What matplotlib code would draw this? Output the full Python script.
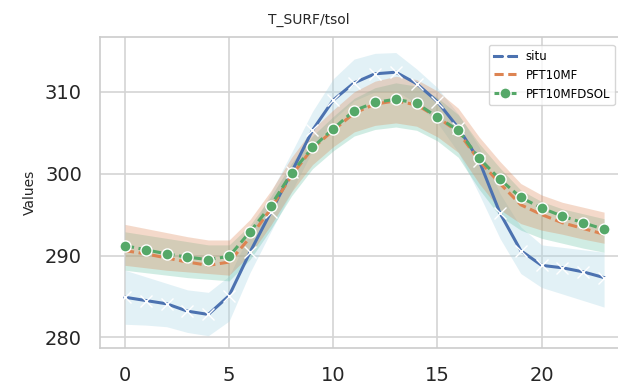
import numpy as np
import matplotlib
matplotlib.use('Agg')
import matplotlib.pyplot as plt

# heures de la journée
hours = list(range(24))

# situ (observations) : moyenne + bornes de la bande
situ = [284.9, 284.5, 284.1, 283.2, 282.8, 285.1, 290.4, 295.3, 300.2, 305.3, 309.0, 311.1,
        312.2, 312.4, 311.0, 308.8, 305.6, 301.6, 295.2, 290.6, 288.8, 288.5, 288.0, 287.3]
situ_hi = [288.2, 287.4, 286.6, 285.8, 285.5, 287.5, 292.8, 297.7, 302.6, 307.6, 311.6, 314.0,
           314.7, 314.8, 312.8, 310.5, 307.3, 303.3, 297.6, 293.5, 291.3, 291.0, 290.7, 290.4]
situ_lo = [281.6, 281.5, 281.3, 280.6, 280.2, 282.0, 287.9, 292.9, 297.8, 302.8, 306.6, 308.9,
           310.0, 310.1, 308.6, 306.2, 302.6, 297.5, 292.1, 287.8, 286.1, 285.3, 284.5, 283.7]

# PFT10MF
mf = [290.6, 290.2, 289.7, 289.2, 288.8, 289.2, 292.2, 295.7, 299.8, 303.1, 305.3, 307.4,
      308.5, 308.9, 308.4, 306.9, 305.1, 301.6, 298.8, 296.2, 295.0, 294.0, 293.3, 292.6]
mf_hi = [293.8, 293.3, 292.8, 292.3, 291.9, 291.9, 294.4, 297.9, 302.0, 305.4, 307.8, 310.0,
         311.3, 311.9, 311.5, 310.1, 308.0, 304.5, 301.5, 298.8, 297.4, 296.5, 295.9, 295.3]
mf_lo = [288.8, 288.5, 288.2, 288.0, 287.8, 287.6, 290.1, 293.7, 297.8, 301.1, 303.3, 305.1,
         305.9, 306.2, 305.8, 304.5, 302.6, 298.8, 295.6, 293.9, 293.1, 292.6, 292.0, 291.5]

# PFT10MFDSOL
dsol = [291.2, 290.7, 290.2, 289.8, 289.5, 289.9, 292.9, 296.1, 300.1, 303.2, 305.5, 307.7,
        308.7, 309.1, 308.6, 306.9, 305.3, 301.9, 299.3, 297.1, 295.8, 294.8, 294.0, 293.2]
dsol_hi = [292.9, 292.5, 292.1, 291.7, 291.3, 291.3, 293.7, 297.2, 301.3, 304.6, 307.0, 309.2,
           310.5, 311.1, 310.7, 309.3, 307.2, 303.7, 300.7, 298.0, 296.6, 295.7, 295.1, 294.5]
dsol_lo = [288.2, 287.9, 287.6, 287.3, 287.1, 286.9, 289.5, 293.2, 297.3, 300.6, 302.8, 304.6,
           305.4, 305.7, 305.3, 304.0, 302.0, 298.1, 294.8, 293.1, 292.1, 291.5, 290.9, 290.4]

x = np.array(hours)

fig = plt.figure(figsize=(6.18, 3.89), dpi=100)
ax = fig.add_axes([100 / 618, 41 / 389, 527 / 618, 311 / 389])

# bandes
ax.fill_between(x, situ_lo, situ_hi, color='#add8e6', alpha=0.35, lw=0)
ax.fill_between(x, dsol_lo, dsol_hi, color='#66c2a5', alpha=0.3, lw=0)
ax.fill_between(x, mf_lo, mf_hi, color='#dd8452', alpha=0.3, lw=0)

# courbes
ax.plot(x, situ, color='#4c72b0', lw=2.2, marker='x', ms=8, mec='white', mew=1.0,
        label='situ')
ax.plot(x, mf, color='#dd8452', lw=2.2, dashes=(3, 1.5), label='PFT10MF')
ax.plot(x, dsol, color='#55a868', lw=2.2, dashes=(3, 1.5), marker='o', ms=8,
        mec='white', mew=1.0, label='PFT10MFDSOL')

ax.set_xlim(-1.2, 24.1)
ax.set_ylim(278.7, 316.7)
ax.set_xticks([0, 5, 10, 15, 20])
ax.set_yticks([280, 290, 300, 310])

ax.grid(True, color='#d4d4d4', lw=1.2)
ax.set_axisbelow(True)
for s in ax.spines.values():
    s.set_color('#cccccc')
    s.set_linewidth(1.2)
ax.tick_params(length=0, labelsize=14, colors='#262626', pad=13)

ax.set_ylabel('Values', fontsize=10, color='#262626', labelpad=6)
fig.text(0.5, 1 - 20 / 389, 'T_SURF/tsol', ha='center', va='center', fontsize=10,
         color='#262626')

leg = ax.legend(loc='upper left', bbox_to_anchor=(489 / 618, 1 - 45 / 389),
                bbox_transform=fig.transFigure, borderaxespad=0, fontsize=8.5,
                frameon=True, handlelength=1.9)
leg.get_frame().set_edgecolor('#cccccc')

fig.savefig('out.png', dpi=100)
